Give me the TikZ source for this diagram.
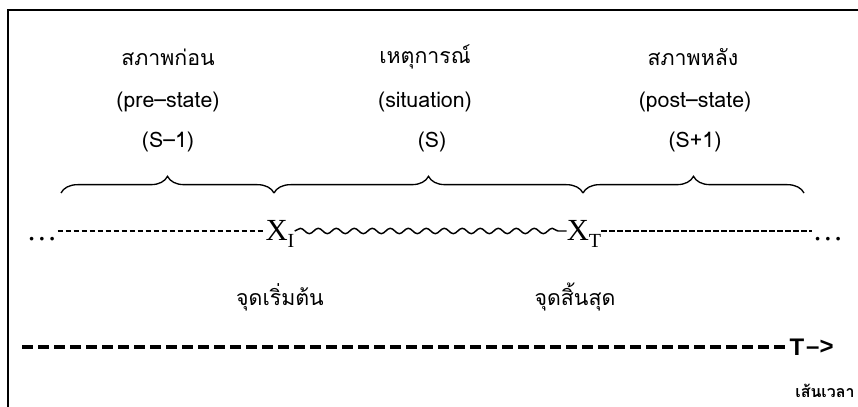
\documentclass[tikz,border=0pt]{standalone}
\usepackage{fontspec}
\newfontfamily\thaifont[Script=Thai]{Loma}
\newfontfamily\ptfont{Liberation Serif}
\newfontfamily\axisfont{Liberation Sans}
\usetikzlibrary{positioning, decorations.pathreplacing, decorations.pathmorphing}

\begin{document}
\begin{tikzpicture}[
    x=0.75pt, y=0.75pt,
    head/.style={font=\thaifont\fontsize{16}{18}\selectfont, inner sep=0pt},
    ptlabel/.style={font=\ptfont\fontsize{23}{25}\selectfont, inner sep=0pt, anchor=base},
    brc/.style={decorate, decoration={brace, amplitude=12.5pt}, line width=1pt},
    dashline/.style={dash pattern=on 4.4pt off 1.6pt, line width=1.1pt},
    tildeline/.style={decorate, decoration={snake, segment length=13.5pt, amplitude=2pt}, line width=1.1pt},
    timeline/.style={dash pattern=on 8.5pt off 3.5pt, line width=2.4pt},
    axislabel/.style={font=\axisfont\bfseries\fontsize{18}{20}\selectfont, inner sep=0pt}
]
\useasboundingbox (0,0) rectangle (858,407);

% frame (top and left edge only)
\draw[line width=1.6pt] (8,0) -- (8,397) -- (858,397);

% headings
\node[head] (preth) at (168,350) {สภาพก่อน};
\node[head] (preen) at (168,305) {(pre–state)};
\node[head] (pres)  at (168,265) {(S–1)};
\node[head] (sitth) at (425,350) {เหตุการณ์};
\node[head] (siten) at (425,305) {(situation)};
\node[head] (sits)  at (432,265) {(S)};
\node[head] (posth) at (693,350) {สภาพหลัง};
\node[head] (posen) at (695,305) {(post–state)};
\node[head] (poss)  at (695,265) {(S+1)};

% braces
\coordinate (b0) at (61,214);
\coordinate (b1) at (274,214);
\coordinate (b2) at (583,214);
\coordinate (b3) at (804,214);
\draw[brc] (b0) -- (b1);
\draw[brc] (b1) -- (b2);
\draw[brc] (b2) -- (b3);

% event line
\node[ptlabel] (dotsl) at (42,166)  {…};
\node[ptlabel] (xi)    at (280,166) {X\raisebox{-5pt}{\fontsize{15}{15}\selectfont I}};
\node[ptlabel] (xt)    at (584,166) {X\raisebox{-5pt}{\fontsize{15}{15}\selectfont T}};
\node[ptlabel] (dotsr) at (828,166) {…};
\draw[dashline]  ([yshift=7.5pt]dotsl.base east) -- ([yshift=7.5pt]xi.base west);
\draw[tildeline] ([yshift=7.5pt]xi.base east) -- ([yshift=7.5pt]xt.base west);
\draw[dashline]  ([yshift=7.5pt]xt.base east) -- ([yshift=7.5pt]dotsr.base west);

\node[head] (istart) at (280,110) {จุดเริ่มต้น};
\node[head] (iend)   at (575,110) {จุดสิ้นสุด};

% time axis
\coordinate (tl0) at (22,60);
\node[axislabel] (tT) at (797,60) {T};
\node[axislabel, right=1pt of tT] (tarr) {–>};
\draw[timeline] (tl0) -- ([xshift=-2pt]tT.west);
\node[head, font=\thaifont\bfseries\fontsize{12}{14}\selectfont] (tline) at (825,16) {เส้นเวลา};

\end{tikzpicture}
\end{document}
